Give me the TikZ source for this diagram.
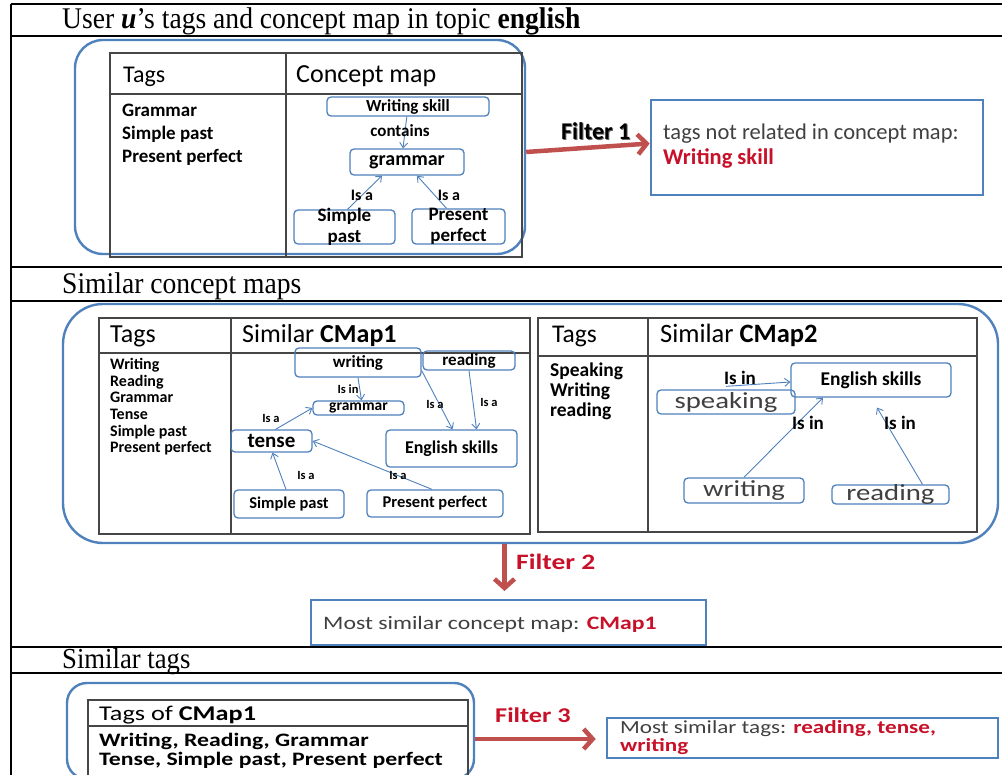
\documentclass[tikz,border=0pt]{standalone}
\usepackage{fontspec}
\setmainfont{Liberation Serif}
\newfontfamily\crl{Carlito}
\newfontfamily\crlw{Carlito}[FakeStretch=1.25]
\newfontfamily\hdfont{Liberation Serif}[FakeStretch=0.92]
\usetikzlibrary{fit,arrows.meta}
\definecolor{cblue}{RGB}{79,129,189}
\definecolor{ared}{RGB}{192,80,77}
\definecolor{tred}{RGB}{200,16,40}
\definecolor{tgray}{RGB}{64,64,64}
\definecolor{tline}{RGB}{70,70,70}
\newcommand\fsz[1]{\fontsize{#1}{#1}\selectfont}
\newcommand\cmnode[7]{%
  \node[cmbox, fit={(#2,#3)(#4,#5)}] (#1) {};
  \node[font={#6}, inner sep=0pt, align=center] (#1t) at (#1.center) {#7};}
\begin{document}
\begin{tikzpicture}[x=1pt,y=-1pt,
  frame/.style={line width=2.6pt, black},
  outerbox/.style={draw=cblue, line width=2.4pt, inner sep=0pt},
  tbl/.style={draw=tline, line width=1.4pt},
  cmbox/.style={draw=cblue, line width=1.3pt, rounded corners=4pt, inner sep=0pt},
  rel/.style={draw=cblue, line width=0.9pt, -{Straight Barb[length=5pt,width=8pt]}},
  bigarrow/.style={draw=ared, line width=4.5pt, -{Straight Barb[length=9pt,width=20pt]}},
  resbox/.style={draw=cblue, line width=2.6pt, inner sep=0pt},
  txt/.style={anchor=base west, inner sep=0pt},
  lbl/.style={inner sep=0pt, font=\crl\bfseries\fsz{#1}},
]
\useasboundingbox (0,0) rectangle (1002,775);
\fill[white] (0,0) rectangle (1002,775);

% ---------- outer frame ----------
\draw[frame] (11,4) -- (1002,4);
\draw[frame] (11,36) -- (1002,36);
\draw[frame] (11,267) -- (1002,267);
\draw[frame] (11,301) -- (1002,301);
\draw[frame] (11,647) -- (1002,647);
\draw[frame] (11,673) -- (1002,673);
\draw[frame] (11,4) -- (11,776);

\node[txt, font=\hdfont\fsz{30}] (h1) at (62,29) {User \textbf{\textit{u}}’s tags and concept map in topic \textbf{english}};
\node[txt, font=\hdfont\fsz{30}] (h2) at (62,294) {Similar concept maps};
\node[txt, font=\hdfont\fsz{29}] (h3) at (62,668) {Similar tags};

% ---------- section 1 ----------
\node[outerbox, rounded corners=28pt, fit={(75,40)(525,254)}] (ob1) {};
\draw[tbl] (110,53) rectangle (522,257);
\draw[tbl] (286,53) -- (286,257);
\draw[tbl] (110,94) -- (522,94);
\node[txt, font=\crl\fsz{24}] (t1) at (123,83) {Tags};
\node[txt, font=\crl\fsz{26}] (c1) at (296,83) {Concept map};
\node[txt, font=\crl\bfseries\fsz{19}] (g1) at (122,117) {Grammar};
\node[txt, font=\crl\bfseries\fsz{19}] (g2) at (122,140) {Simple past};
\node[txt, font=\crl\bfseries\fsz{19}] (g3) at (122,163) {Present perfect};

\cmnode{ws}{327}{97}{489}{116}{\crl\bfseries\fsz{17}}{Writing skill}
\cmnode{gr}{350}{149}{464}{175}{\crl\bfseries\fsz{20}}{grammar}
\cmnode{sp}{294}{210}{395}{244}{\crl\bfseries\fsz{19}\baselineskip=21pt}{Simple\\past}
\cmnode{pp}{412}{209}{505}{244}{\crl\bfseries\fsz{19}\baselineskip=21pt}{Present\\perfect}
\draw[rel] (ws) -- ([xshift=-4pt]gr.north);
\draw[rel] ([xshift=3pt]sp.north) -- ([xshift=-25pt]gr.south);
\draw[rel] ([xshift=-12pt]pp.north) -- ([xshift=10pt]gr.south);
\node[lbl=17] (la1) at (400,131) {contains};
\node[lbl=16] (la2) at (362,195) {Is a};
\node[lbl=16] (la3) at (449,195) {Is a};

% filter 1
\node[resbox, fit={(651,100)(983,195)}] (f1) {};
\draw[bigarrow] ([yshift=-5pt]ob1.east) -- ([yshift=4pt]f1.west);
\node[txt, font=\crl\bfseries\fsz{24}, text=black!60] (fl1s) at (562,141) {Filter 1};
\node[txt, font=\crl\bfseries\fsz{24}] (fl1) at (561,140) {Filter 1};
\node[txt, font=\crl\fsz{22.5}, text=tgray] (f1a) at (663,140) {tags not related in concept map:};
\node[txt, font=\crl\bfseries\fsz{22.5}, text=tred] (f1b) at (663,165) {Writing skill};

% ---------- section 2 ----------
\node[outerbox, rounded corners=40pt, fit={(63,304)(998,543)}] (ob2) {};
% table CMap1
\draw[tbl] (99,318) rectangle (530,534);
\draw[tbl] (231,318) -- (231,534);
\draw[tbl] (99,353) -- (530,353);
\node[txt, font=\crl\fsz{26}] (t2) at (110,343) {Tags};
\node[txt, font=\crl\fsz{26}] (c2) at (242,343) {Similar \textbf{CMap1}};
\node[txt, font=\crl\bfseries\fsz{16}] (s1) at (110,370) {Writing};
\node[txt, font=\crl\bfseries\fsz{16}] (s2) at (110,387) {Reading};
\node[txt, font=\crl\bfseries\fsz{16}] (s3) at (110,403) {Grammar};
\node[txt, font=\crl\bfseries\fsz{16}] (s4) at (110,420) {Tense};
\node[txt, font=\crl\bfseries\fsz{16}] (s5) at (110,437) {Simple past};
\node[txt, font=\crl\bfseries\fsz{16}] (s6) at (110,453) {Present perfect};

\cmnode{wr}{295}{348}{421}{377}{\crl\bfseries\fsz{17}}{writing}
\cmnode{rd}{423}{351}{515}{370}{\crl\bfseries\fsz{17}}{reading}
\cmnode{gm}{313}{401}{404}{415}{\crl\bfseries\fsz{15.5}}{grammar}
\cmnode{tn}{231}{430}{312}{452}{\crl\bfseries\fsz{21}}{tense}
\cmnode{es}{386}{430}{517}{467}{\crl\bfseries\fsz{18}}{English skills}
\cmnode{sq}{234}{490}{344}{518}{\crl\bfseries\fsz{16.5}}{Simple past}
\cmnode{pq}{367}{490}{503}{517}{\crl\bfseries\fsz{16.5}}{Present perfect}
\draw[rel] (wr.south) -- ([xshift=3pt]gm.north);
\draw[rel] ([xshift=4pt]tn.north) -- (gm.west);
\draw[rel] ([yshift=-8pt]wr.east) -- ([xshift=1pt]es.north);
\draw[rel] (rd.south) -- ([xshift=25pt]es.north);
\draw[rel] ([xshift=-3pt]sq.north) -- ([xshift=1pt]tn.south);
\draw[rel] ([xshift=-3pt]pq.north) -- (tn.east);
\node[lbl=12.5] (lb1) at (348,389) {Is in};
\node[lbl=12.5] (lb2) at (271,418) {Is a};
\node[lbl=12.5] (lb3) at (435,404) {Is a};
\node[lbl=12.5] (lb4) at (489,402) {Is a};
\node[lbl=12.5] (lb5) at (306,475) {Is a};
\node[lbl=12.5] (lb6) at (398,475) {Is a};

% table CMap2
\draw[tbl] (538,318) rectangle (977,532);
\draw[tbl] (648,318) -- (648,532);
\draw[tbl] (538,356) -- (977,356);
\node[txt, font=\crl\fsz{25.5}] (t3) at (552,343) {Tags};
\node[txt, font=\crl\fsz{26.5}] (c3) at (660,343) {Similar \textbf{CMap2}};
\node[txt, font=\crl\bfseries\fsz{19.5}] (r1) at (550,377) {Speaking};
\node[txt, font=\crl\bfseries\fsz{19.5}] (r2) at (550,397) {Writing};
\node[txt, font=\crl\bfseries\fsz{19.5}] (r3) at (550,417) {reading};

\cmnode{es2}{791}{363}{951}{397}{\crl\bfseries\fsz{19.5}}{English skills}
\cmnode{spk}{657}{390}{795}{414}{\crlw\fsz{23}\color{tgray}}{speaking}
\cmnode{wrt}{684}{478}{804}{503}{\crlw\fsz{23}\color{tgray}}{writing}
\cmnode{rdg}{832}{485}{949}{504}{\crlw\fsz{23}\color{tgray}}{reading}
\draw[rel] ([yshift=3pt]spk.north) -- ([yshift=-2pt]es2.west);
\draw[rel] (wrt.north) -- ([xshift=-48pt]es2.south);
\draw[rel] ([xshift=32pt]rdg.north) -- ([xshift=6pt,yshift=-10pt]es2.south);
\node[lbl=19] (lc1) at (740,378) {Is in};
\node[lbl=19] (lc2) at (808,423) {Is in};
\node[lbl=19] (lc3) at (900,423) {Is in};

% filter 2
\node[resbox, line width=2pt, fit={(311,600)(706,645)}] (f2) {};
\draw[bigarrow] ([xshift=-4pt]f2.north |- ob2.south) -- ([xshift=-4pt,yshift=8pt]f2.north);
\node[txt, font=\crlw\bfseries\fsz{22}, text=tred] (fl2) at (516,569) {Filter 2};
\node[txt, font=\crlw\fsz{19}, text=tgray] (f2a) at (323,629) {Most similar concept map: \textcolor{tred}{\textbf{CMap1}}};

% ---------- section 3 ----------
\node[outerbox, rounded corners=20pt, fit={(67,683)(474,779)}] (ob3) {};
\draw[tbl] (88,700) rectangle (468,779);
\draw[tbl] (88,726) -- (468,726);
\node[txt, font=\crlw\fsz{21}] (t4) at (99,720) {Tags of \textbf{CMap1}};
\node[txt, font=\crlw\bfseries\fsz{19}] (u1) at (99,746) {Writing, Reading, Grammar};
\node[txt, font=\crlw\bfseries\fsz{19}] (u2) at (99,765) {Tense, Simple past, Present perfect};

\node[resbox, fit={(607,718)(998,758)}] (f3) {};
\draw[bigarrow] ([yshift=-8pt]ob3.east) -- ([xshift=-10pt,yshift=-8pt]ob3.east -| f3.west);
\node[txt, font=\crlw\bfseries\fsz{21}, text=tred] (fl3) at (495,722) {Filter 3};
\node[txt, font=\crlw\fsz{18.5}, text=tgray] (f3a) at (620,733) {Most similar tags: \textcolor{tred}{\textbf{reading, tense,}}};
\node[txt, font=\crlw\bfseries\fsz{18.5}, text=tred] (f3b) at (620,751) {writing};
\end{tikzpicture}
\end{document}
